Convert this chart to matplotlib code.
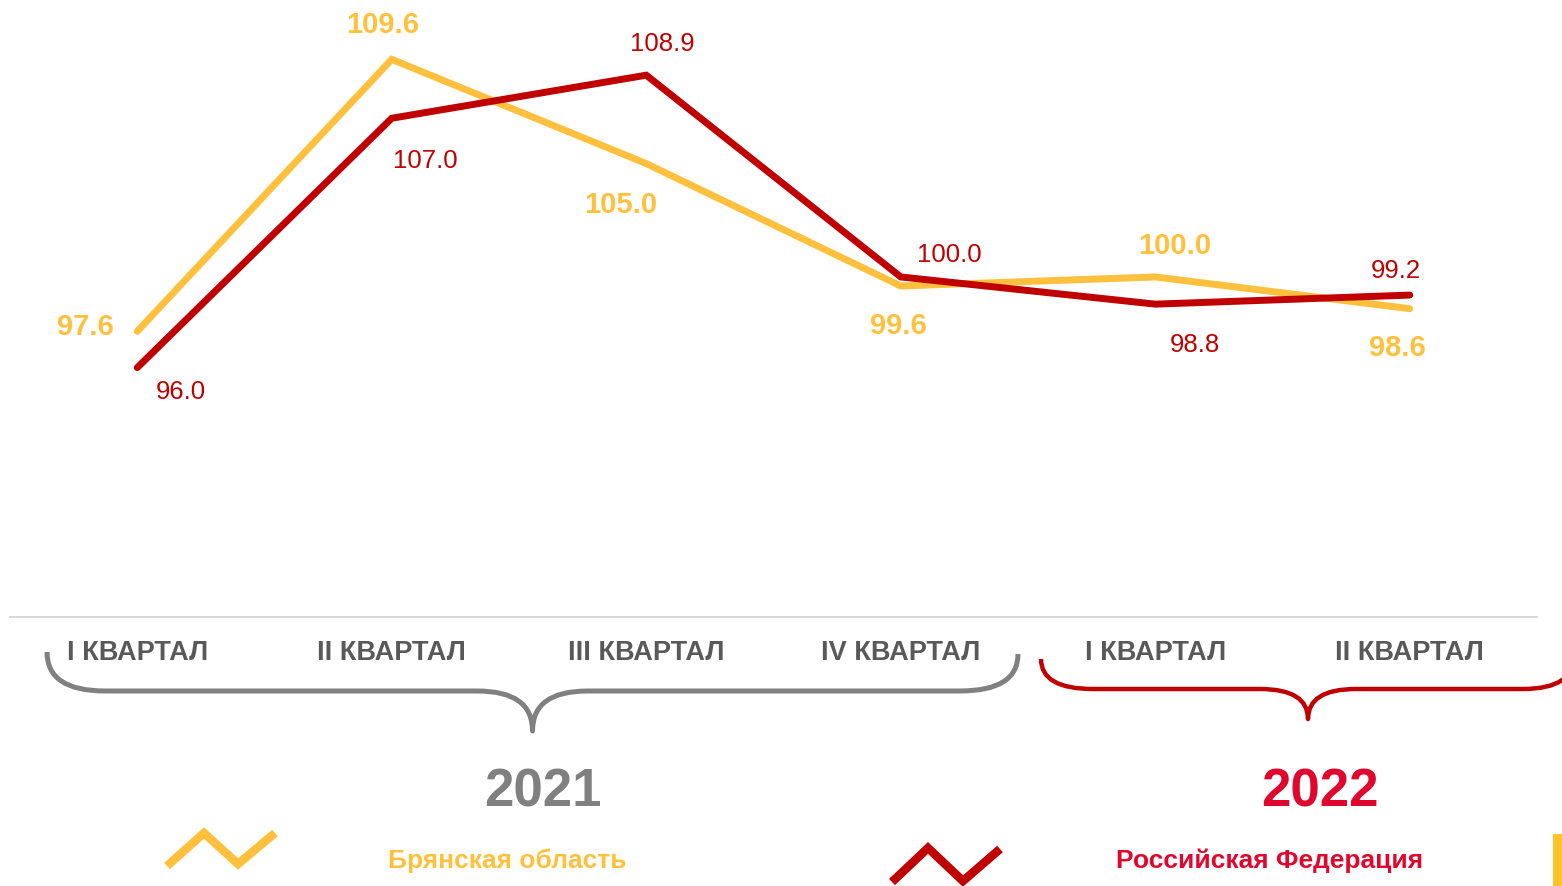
import matplotlib
matplotlib.use("Agg")
import matplotlib.pyplot as plt
from matplotlib.path import Path
from matplotlib.patches import PathPatch, Rectangle
import numpy as np

# ---- data ----
quarters = ["I КВАРТАЛ", "II КВАРТАЛ", "III КВАРТАЛ", "IV КВАРТАЛ", "I КВАРТАЛ", "II КВАРТАЛ"]
bryansk = [97.6, 109.6, 105.0, 99.6, 100.0, 98.6]
russia = [96.0, 107.0, 108.9, 100.0, 98.8, 99.2]
years = ["2021", "2022"]
series_names = ["Брянская область", "Российская Федерация"]

# label offsets in pixels (dx, dy) relative to points
bry_off = [(-52, 5), (-9, 35), (-26, -40), (-2, -39), (19, 32), (-12, -38)]
rus_off = [(44, -23), (34, -42), (16, 32), (49, 23), (40, -40), (-14, 25)]

YELLOW = "#FFC03D"
DARKRED = "#C00000"
CRIMSON = "#E0062D"
GRAY = "#808080"
TXTGRAY = "#595959"
FONT = ["Liberation Sans", "DejaVu Sans"]

W, H = 1562, 887
fig = plt.figure(figsize=(W / 100, H / 100), dpi=100)
fig.patch.set_facecolor("white")

ax = fig.add_axes([10 / W, (H - 618) / H, 1527 / W, 618 / H])
ax.set_xlim(-0.5, 5.5)
ax.set_ylim(85, 112.26)
x = np.arange(len(quarters))
ax.plot(x, bryansk, color=YELLOW, lw=5.0, solid_capstyle="round", solid_joinstyle="miter", zorder=3)
ax.plot(x, russia, color=DARKRED, lw=5.0, solid_capstyle="round", solid_joinstyle="miter", zorder=4)

for i, v in enumerate(bryansk):
    ax.annotate(f"{v:.1f}", (i, v), xytext=bry_off[i], textcoords="offset pixels",
                ha="center", va="center", fontsize=21, fontweight="bold",
                color=YELLOW, family=FONT, annotation_clip=False)
for i, v in enumerate(russia):
    ax.annotate(f"{v:.1f}", (i, v), xytext=rus_off[i], textcoords="offset pixels",
                ha="center", va="center", fontsize=18.5,
                color=DARKRED, family=FONT, annotation_clip=False)

for s in ["top", "left", "right"]:
    ax.spines[s].set_visible(False)
ax.spines["bottom"].set_color("#D9D9D9")
ax.spines["bottom"].set_linewidth(1.5)
ax.set_yticks([])
ax.set_xticks(x)
ax.set_xticklabels(quarters, fontsize=19.5, fontweight="bold", color=TXTGRAY, family=FONT)
ax.tick_params(axis="x", length=0, pad=16)
ax.patch.set_alpha(0)

# ---- overlay for decorations (pixel coordinates) ----
ov = fig.add_axes([0, 0, 1, 1], zorder=-1)
ov.set_xlim(0, W)
ov.set_ylim(H, 0)
ov.axis("off")


def brace(x0, x1, ytop_l, ytop_r, ybar, ytip, r, r2, color, lw):
    xm = (x0 + x1) / 2
    verts = [(x0, ytop_l), (x0, ybar), (x0 + r, ybar),
             (xm - r2, ybar),
             (xm, ybar), (xm, ytip),
             (xm, ybar), (xm + r2, ybar),
             (x1 - r, ybar),
             (x1, ybar), (x1, ytop_r)]
    codes = [Path.MOVETO, Path.CURVE3, Path.CURVE3,
             Path.LINETO,
             Path.CURVE3, Path.CURVE3,
             Path.CURVE3, Path.CURVE3,
             Path.LINETO,
             Path.CURVE3, Path.CURVE3]
    ov.add_patch(PathPatch(Path(verts, codes), fill=False, edgecolor=color, lw=lw,
                           capstyle="butt", joinstyle="round"))


brace(47, 1018, 653, 655, 692, 732, 58, 55, GRAY, 3.6)
brace(1041, 1575, 660, 655, 690, 720, 52, 48, DARKRED, 3.2)

ov.text(543, 793, years[0], ha="center", va="center", fontsize=38, fontweight="bold",
        color=GRAY, family=FONT)
ov.text(1320, 793, years[1], ha="center", va="center", fontsize=38, fontweight="bold",
        color=CRIMSON, family=FONT)

# legend icons
ov.plot([167, 204, 238, 275], [867, 834, 865, 834], color=YELLOW, lw=6.2,
        solid_joinstyle="miter", solid_capstyle="butt")
ov.plot([892, 928, 963, 1000], [883, 849, 882, 850], color=DARKRED, lw=6.2,
        solid_joinstyle="miter", solid_capstyle="butt")
ov.text(507, 861, series_names[0], ha="center", va="center", fontsize=19, fontweight="bold",
        color=YELLOW, family=FONT)
ov.text(1270, 861, series_names[1], ha="center", va="center", fontsize=19, fontweight="bold",
        color=CRIMSON, family=FONT)
ov.add_patch(Rectangle((1553, 835), 10, 60, color="#FFC32A", lw=0))

fig.savefig("out.png", dpi=100)
